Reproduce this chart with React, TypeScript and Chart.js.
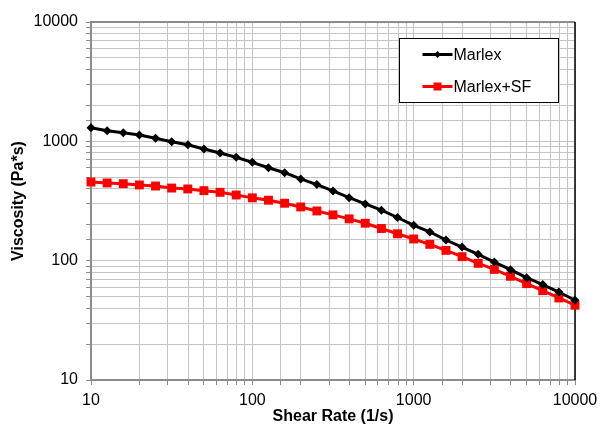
import React, { useEffect, useRef } from 'react';
import { Chart, registerables } from 'chart.js';

Chart.register(...registerables);

// Shear rate (1/s), 10 points per decade
const shearRate = [
  10, 12.59, 15.85, 19.95, 25.12, 31.62, 39.81, 50.12, 63.1, 79.43,
  100, 125.9, 158.5, 199.5, 251.2, 316.2, 398.1, 501.2, 631, 794.3,
  1000, 1259, 1585, 1995, 2512, 3162, 3981, 5012, 6310, 7943, 10000,
];

// Viscosity (Pa*s)
const marlex = [
  1300, 1227, 1180, 1129, 1060, 993, 937, 863, 798, 735,
  667, 601, 546, 484, 434, 384, 337, 299, 265, 230,
  198, 174, 149, 130, 113, 97.3, 84, 72, 63, 54.6, 46.6,
];

const marlexSF = [
  456, 448, 442, 431, 422, 406, 399, 386, 374, 355,
  336, 321, 303, 282, 261, 242, 224, 206, 186, 168,
  152, 137, 122, 108, 95, 84.5, 74, 64.2, 56.1, 48.7, 42.3,
];

const seriesLabels = ['Marlex', 'Marlex+SF'];
const xTitle = 'Shear Rate (1/s)';
const yTitle = 'Viscosity (Pa*s)';

const FONT = "'Liberation Sans', Arial, Helvetica, sans-serif";

const decadeLabel = (v: number | string) => {
  const n = Number(v);
  const l = Math.log10(n);
  return Math.abs(l - Math.round(l)) < 1e-9 ? String(Math.round(n)) : '';
};

const framePlugin = {
  id: 'frameLines',
  beforeDatasetsDraw(chart: any) {
    const { ctx, chartArea: ca } = chart;
    ctx.save();
    ctx.strokeStyle = '#8c8c8c';
    ctx.lineWidth = 2;
    ctx.beginPath();
    ctx.moveTo(ca.left, ca.top);
    ctx.lineTo(ca.right, ca.top);
    ctx.stroke();
    ctx.strokeStyle = '#000';
    ctx.lineWidth = 1.5;
    ctx.beginPath();
    ctx.moveTo(ca.right, ca.top);
    ctx.lineTo(ca.right, ca.bottom);
    ctx.stroke();
    ctx.restore();
  },
};

const legendPlugin = {
  id: 'boxLegend',
  afterDraw(chart: any) {
    const { ctx, chartArea: ca } = chart;
    const bx = Math.round(ca.right - 176) + 0.5;
    const by = Math.round(ca.top + 16) + 0.5;
    const bw = 159;
    const bh = 64;
    ctx.save();
    ctx.fillStyle = '#fff';
    ctx.fillRect(bx, by, bw, bh);
    ctx.strokeStyle = '#000';
    ctx.lineWidth = 1;
    ctx.strokeRect(bx, by, bw, bh);
    chart.data.datasets.forEach((ds: any, i: number) => {
      const y = by + 16 + i * 32;
      ctx.strokeStyle = ds.borderColor;
      ctx.lineWidth = 3;
      ctx.beginPath();
      ctx.moveTo(bx + 23, y);
      ctx.lineTo(bx + 53, y);
      ctx.stroke();
      const cx = bx + 38;
      ctx.fillStyle = ds.backgroundColor;
      if (ds.pointStyle === 'rectRot') {
        ctx.beginPath();
        ctx.moveTo(cx, y - 3.5);
        ctx.lineTo(cx + 3.5, y);
        ctx.lineTo(cx, y + 3.5);
        ctx.lineTo(cx - 3.5, y);
        ctx.closePath();
        ctx.fill();
      } else {
        ctx.fillRect(cx - 4, y - 4, 8, 8);
      }
      ctx.fillStyle = '#000';
      ctx.font = `16px ${FONT}`;
      ctx.textBaseline = 'middle';
      ctx.textAlign = 'left';
      ctx.fillText(ds.label, bx + 54, y + 1);
    });
    ctx.restore();
  },
};

export default function App() {
  const canvasRef = useRef<HTMLCanvasElement | null>(null);

  useEffect(() => {
    if (!canvasRef.current) return;
    const toPts = (ys: number[]) => shearRate.map((x, i) => ({ x, y: ys[i] }));
    const chart = new Chart(canvasRef.current, {
      type: 'line',
      data: {
        datasets: [
          {
            label: seriesLabels[0],
            data: toPts(marlex),
            borderColor: '#000000',
            backgroundColor: '#000000',
            borderWidth: 3,
            pointStyle: 'rectRot',
            pointRadius: 4.5,
            pointBorderWidth: 0,
            tension: 0,
            clip: false,
          },
          {
            label: seriesLabels[1],
            data: toPts(marlexSF),
            borderColor: '#ff0000',
            backgroundColor: '#ff0000',
            borderWidth: 3,
            pointStyle: 'rect',
            pointRadius: 6.3,
            pointBorderWidth: 0,
            tension: 0,
            clip: false,
          },
        ],
      },
      options: {
        animation: false,
        responsive: true,
        maintainAspectRatio: false,
        layout: { padding: { left: 0, right: 25, top: 22, bottom: 0 } },
        plugins: {
          legend: { display: false },
          tooltip: { enabled: false },
        },
        scales: {
          x: {
            type: 'logarithmic',
            min: 10,
            max: 10000,
            afterFit: (s: any) => {
              s.height = 46;
              s.paddingLeft = 0;
              s.paddingRight = 0;
            },
            border: { color: '#8c8c8c', width: 2 },
            grid: {
              color: '#c4c4c4',
              lineWidth: 1,
              tickLength: 5,
              tickColor: '#8c8c8c',
            },
            ticks: {
              autoSkip: false,
              maxRotation: 0,
              padding: 6,
              color: '#000',
              font: { family: FONT, size: 16 },
              callback: (v: any) => decadeLabel(v),
            },
            title: {
              display: true,
              text: xTitle,
              color: '#000',
              font: { family: FONT, size: 16, weight: 'bold' },
              padding: { top: 0, bottom: 0 },
            },
          },
          y: {
            type: 'logarithmic',
            min: 10,
            max: 10000,
            afterFit: (s: any) => {
              s.width = 91;
              s.paddingTop = 0;
              s.paddingBottom = 0;
            },
            border: { color: '#8c8c8c', width: 2 },
            grid: {
              color: '#c4c4c4',
              lineWidth: 1,
              tickLength: 5,
              tickColor: '#8c8c8c',
            },
            ticks: {
              autoSkip: false,
              padding: 8,
              color: '#000',
              font: { family: FONT, size: 16 },
              callback: (v: any) => decadeLabel(v),
            },
            title: {
              display: true,
              text: yTitle,
              color: '#000',
              font: { family: FONT, size: 16, weight: 'bold' },
              padding: { top: 9, bottom: 0 },
            },
          },
        },
      },
      plugins: [framePlugin, legendPlugin],
    } as any);
    return () => chart.destroy();
  }, []);

  return (
    <div style={{ position: 'fixed', left: 0, top: 0, width: 600, height: 426, background: '#fff' }}>
      <canvas ref={canvasRef} />
    </div>
  );
}
